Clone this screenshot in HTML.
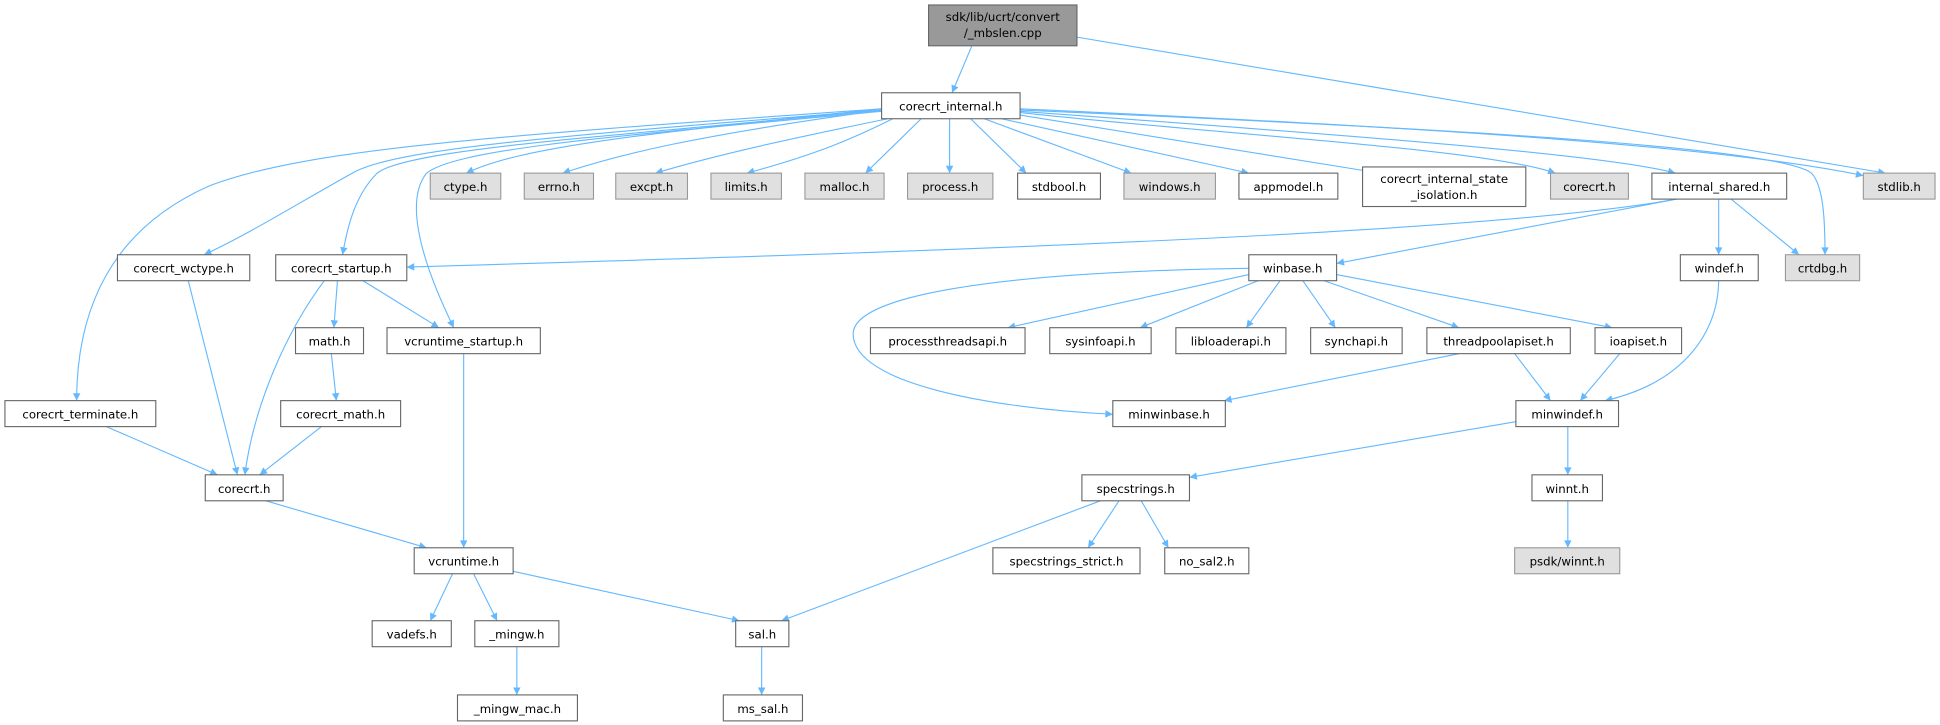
<!DOCTYPE html>
<html><head><meta charset="utf-8"><style>
html,body{margin:0;padding:0;background:#fff;}
svg{display:block}
text{font-family:"DejaVu Sans","Liberation Sans",sans-serif;font-size:9.5px;fill:#000;text-anchor:middle}
.n{fill:#fff;stroke:#666;stroke-width:0.9}
.g{fill:#e0e0e0;stroke:#999;stroke-width:0.9}
.r{fill:#999;stroke:#666;stroke-width:0.9}
.e{fill:none;stroke:#63b8ff;stroke-width:0.9;marker-end:url(#a)}
</style></head><body>
<svg width="1940" height="725" viewBox="0 0 1569 586.3" xmlns="http://www.w3.org/2000/svg">
<defs><marker id="a" viewBox="0 0 10 10" refX="10" refY="5" markerWidth="9" markerHeight="6" markerUnits="userSpaceOnUse" orient="auto"><path d="M0,0 L10,5 L0,10 z" fill="#63b8ff"/></marker></defs>

<path class="e" d="M786,37 L770,75"/>
<path class="e" d="M871,30 L1525,140"/>
<path class="e" d="M713,88 C500,110 420,120 377,140"/>
<path class="e" d="M713,89 C560,110 500,125 455,140"/>
<path class="e" d="M718,96 C640,112 580,125 530,140"/>
<path class="e" d="M722,96 C690,112 660,125 604,140"/>
<path class="e" d="M745,96 L700,140"/>
<path class="e" d="M768,96 L768,140"/>
<path class="e" d="M785,96 L830,140"/>
<path class="e" d="M796,96 L915,140"/>
<path class="e" d="M810,96 L1010,140"/>
<path class="e" d="M825,93 L1116,140"/>
<path class="e" d="M825,91 C1000,110 1200,120 1258,140"/>
<path class="e" d="M825,90 C1100,110 1300,125 1355,140"/>
<path class="e" d="M825,88 C1200,105 1400,120 1507,142"/>
<path class="e" d="M825,89 C1200,105 1440,120 1465,140 C1475,150 1476,180 1476,206"/>
<path class="e" d="M713,89 C450,110 320,120 285,140 C240,165 200,190 165,206"/>
<path class="e" d="M713,89 C500,110 330,120 305,140 C285,160 280,190 277,206"/>
<path class="e" d="M713,90 C500,110 370,120 345,140 C325,165 345,220 367,265"/>
<path class="e" d="M713,88 C400,110 250,120 170,150 C90,185 62,250 62,324"/>
<path class="e" d="M263,226 C230,270 205,330 198,384"/>
<path class="e" d="M273,226 L270,265"/>
<path class="e" d="M292,226 L355,265"/>
<path class="e" d="M152,226 L192,384"/>
<path class="e" d="M1356,161 C1200,190 700,205 329,216"/>
<path class="e" d="M1356,161 L1081,213"/>
<path class="e" d="M1390,161 L1390,206"/>
<path class="e" d="M1400,161 L1455,206"/>
<path class="e" d="M1010,217 C800,220 690,240 690,270 C690,310 800,330 900,335"/>
<path class="e" d="M1010,222 L815,265"/>
<path class="e" d="M1020,226 L922,265"/>
<path class="e" d="M1036,226 L1008,265"/>
<path class="e" d="M1053,226 L1080,265"/>
<path class="e" d="M1068,226 L1180,265"/>
<path class="e" d="M1081,222 L1304,265"/>
<path class="e" d="M1180,286 L990,324"/>
<path class="e" d="M1225,286 L1254,324"/>
<path class="e" d="M1310,286 L1278,324"/>
<path class="e" d="M1390,226 C1390,270 1360,310 1298,324"/>
<path class="e" d="M268,286 L272,324"/>
<path class="e" d="M260,345 L210,384"/>
<path class="e" d="M86,345 L176,384"/>
<path class="e" d="M215,405 L345,443"/>
<path class="e" d="M375,286 L375,443"/>
<path class="e" d="M1226,341 L962,386"/>
<path class="e" d="M1268,345 L1268,384"/>
<path class="e" d="M1268,405 L1268,443"/>
<path class="e" d="M905,405 L880,443"/>
<path class="e" d="M923,405 L945,443"/>
<path class="e" d="M890,405 L632,502"/>
<path class="e" d="M366,464 L348,502"/>
<path class="e" d="M383,464 L402,502"/>
<path class="e" d="M415,462 L598,502"/>
<path class="e" d="M418,523 L418,562"/>
<path class="e" d="M616,523 L616,562"/>

<rect class="r" x="751" y="4" width="120" height="33"/><text x="811" y="17">sdk/lib/ucrt/convert</text><text x="811" y="30">/_mbslen.cpp</text>
<rect class="n" x="713" y="75" width="112" height="21"/><text x="769" y="89.5">corecrt_internal.h</text>

<rect class="g" x="348" y="140" width="57" height="21"/><text x="376.5" y="154.5">ctype.h</text>
<rect class="g" x="424" y="140" width="56" height="21"/><text x="452" y="154.5">errno.h</text>
<rect class="g" x="498" y="140" width="58" height="21"/><text x="527" y="154.5">excpt.h</text>
<rect class="g" x="575" y="140" width="57" height="21"/><text x="603.5" y="154.5">limits.h</text>
<rect class="g" x="651" y="140" width="64" height="21"/><text x="683" y="154.5">malloc.h</text>
<rect class="g" x="734" y="140" width="69" height="21"/><text x="768.5" y="154.5">process.h</text>
<rect class="n" x="823" y="140" width="67" height="21"/><text x="856.5" y="154.5">stdbool.h</text>
<rect class="g" x="909" y="140" width="74" height="21"/><text x="946" y="154.5">windows.h</text>
<rect class="n" x="1002" y="140" width="80" height="21"/><text x="1042" y="154.5">appmodel.h</text>
<rect class="n" x="1102" y="135" width="132" height="32"/><text x="1168" y="148">corecrt_internal_state</text><text x="1168" y="161">_isolation.h</text>
<rect class="g" x="1254" y="140" width="63" height="21"/><text x="1285.5" y="154.5">corecrt.h</text>
<rect class="n" x="1336" y="140" width="109" height="21"/><text x="1390.5" y="154.5">internal_shared.h</text>
<rect class="g" x="1507" y="140" width="58" height="21"/><text x="1536" y="154.5">stdlib.h</text>

<rect class="n" x="95" y="206" width="107" height="21"/><text x="148.5" y="220.5">corecrt_wctype.h</text>
<rect class="n" x="223" y="206" width="106" height="21"/><text x="276" y="220.5">corecrt_startup.h</text>
<rect class="n" x="1010" y="206" width="71" height="21"/><text x="1045.5" y="220.5">winbase.h</text>
<rect class="n" x="1359" y="206" width="63" height="21"/><text x="1390.5" y="220.5">windef.h</text>
<rect class="g" x="1444" y="206" width="60" height="21"/><text x="1474" y="220.5">crtdbg.h</text>

<rect class="n" x="239" y="265" width="55" height="21"/><text x="266.5" y="279.5">math.h</text>
<rect class="n" x="313" y="265" width="124" height="21"/><text x="375" y="279.5">vcruntime_startup.h</text>
<rect class="n" x="704" y="265" width="125" height="21"/><text x="766.5" y="279.5">processthreadsapi.h</text>
<rect class="n" x="849" y="265" width="82" height="21"/><text x="890" y="279.5">sysinfoapi.h</text>
<rect class="n" x="951" y="265" width="89" height="21"/><text x="995.5" y="279.5">libloaderapi.h</text>
<rect class="n" x="1060" y="265" width="74" height="21"/><text x="1097" y="279.5">synchapi.h</text>
<rect class="n" x="1154" y="265" width="116" height="21"/><text x="1212" y="279.5">threadpoolapiset.h</text>
<rect class="n" x="1290" y="265" width="70" height="21"/><text x="1325" y="279.5">ioapiset.h</text>

<rect class="n" x="4" y="324" width="122" height="21"/><text x="65" y="338.5">corecrt_terminate.h</text>
<rect class="n" x="227" y="324" width="97" height="21"/><text x="275.5" y="338.5">corecrt_math.h</text>
<rect class="n" x="900" y="324" width="91" height="21"/><text x="945.5" y="338.5">minwinbase.h</text>
<rect class="n" x="1226" y="324" width="83" height="21"/><text x="1267.5" y="338.5">minwindef.h</text>

<rect class="n" x="166" y="384" width="63" height="21"/><text x="197.5" y="398.5">corecrt.h</text>
<rect class="n" x="875" y="384" width="87" height="21"/><text x="918.5" y="398.5">specstrings.h</text>
<rect class="n" x="1239" y="384" width="57" height="21"/><text x="1267.5" y="398.5">winnt.h</text>

<rect class="n" x="335" y="443" width="80" height="21"/><text x="375" y="457.5">vcruntime.h</text>
<rect class="n" x="803" y="443" width="119" height="21"/><text x="862.5" y="457.5">specstrings_strict.h</text>
<rect class="n" x="942" y="443" width="68" height="21"/><text x="976" y="457.5">no_sal2.h</text>
<rect class="g" x="1225" y="443" width="85" height="21"/><text x="1267.5" y="457.5">psdk/winnt.h</text>

<rect class="n" x="301" y="502" width="64" height="21"/><text x="333" y="516.5">vadefs.h</text>
<rect class="n" x="384" y="502" width="68" height="21"/><text x="418" y="516.5">_mingw.h</text>
<rect class="n" x="595" y="502" width="43" height="21"/><text x="616.5" y="516.5">sal.h</text>

<rect class="n" x="370" y="562" width="97" height="21"/><text x="418.5" y="576.5">_mingw_mac.h</text>
<rect class="n" x="585" y="562" width="64" height="21"/><text x="617" y="576.5">ms_sal.h</text>
</svg>
</body></html>
